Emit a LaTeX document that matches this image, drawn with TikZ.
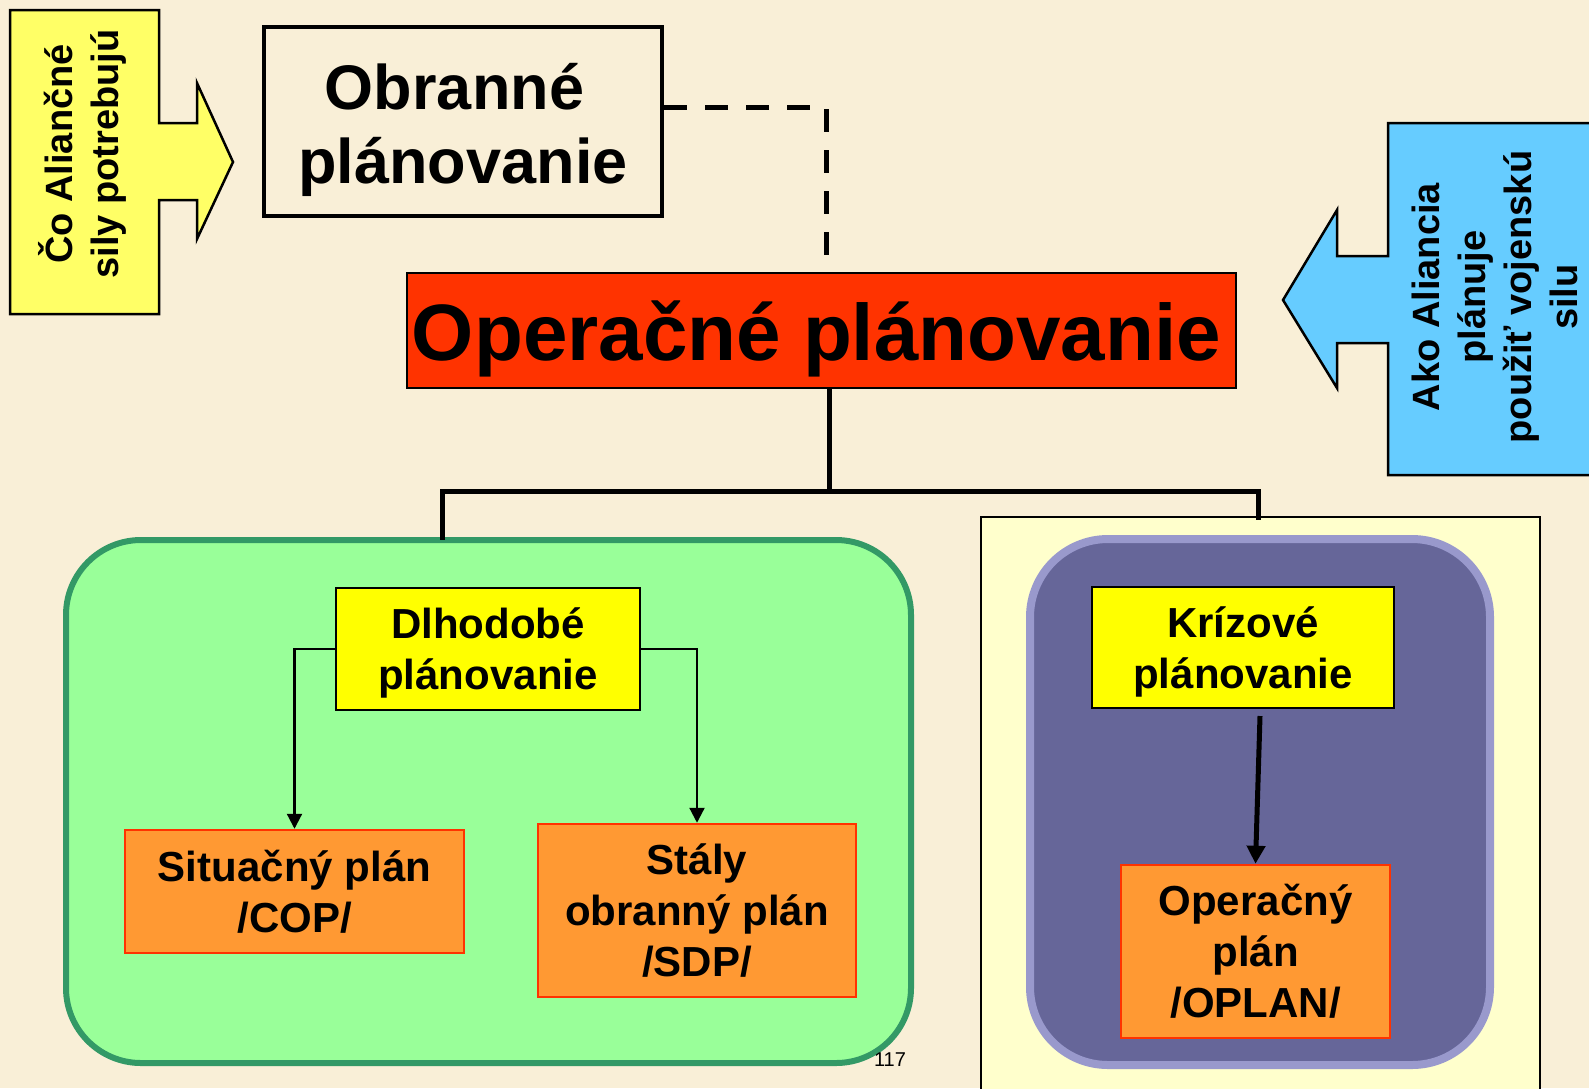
\documentclass[tikz,border=0pt]{standalone}
\usepackage{fontspec}
\setmainfont{Liberation Sans}
\usetikzlibrary{arrows.meta}
\definecolor{paper}{HTML}{F9EFD7}
\definecolor{callyellow}{HTML}{FFFF66}
\definecolor{callblue}{HTML}{66CCFF}
\definecolor{opred}{HTML}{FF3300}
\definecolor{planyellow}{HTML}{FFFF00}
\definecolor{planorange}{HTML}{FF9933}
\definecolor{greenfill}{HTML}{99FF99}
\definecolor{greenedge}{HTML}{339966}
\definecolor{purplefill}{HTML}{666699}
\definecolor{purpleedge}{HTML}{9999CC}
\definecolor{cream}{HTML}{FFFFCC}
\begin{document}
\begin{tikzpicture}[x=1pt,y=-1pt,
  mid/.style={font=\bfseries\fontsize{42}{51}\selectfont},
  stage/.style={draw=black, line width=2.5pt, fill=planyellow, inner sep=0pt},
  plan/.style={mid, draw=opred, line width=2.5pt, fill=planorange, inner sep=0pt, align=center},
  label/.style={inner sep=0pt, align=center},
  callout/.style={draw=black, line width=2.5pt, line join=miter},
  calltext/.style={font=\bfseries\fontsize{38}{46}\selectfont, align=center, rotate=90, inner sep=0pt},
  tree/.style={line width=5pt},
  thinarrow/.style={line width=2.2pt, -{Triangle[width=15pt,length=15pt]}},
  thickarrow/.style={line width=5pt, -{Triangle[width=18pt,length=18pt]}},
  dashline/.style={line width=5pt, dash pattern=on 23pt off 18pt}]

% page and background
\useasboundingbox (0,0) rectangle (1589,1088);
\fill[paper] (0,0) rectangle (1589,1088);

% cream panel behind the crisis planning group
\fill[cream] (981,517) rectangle (1540,1100);
\draw[line width=2pt] (981,1100) -- (981,517) -- (1540,517) -- (1540,1100);

% rounded group frames
\draw[draw=greenedge, fill=greenfill, line width=6pt, rounded corners=75pt]
  (66,540) rectangle (911,1063);
\draw[draw=purpleedge, fill=purplefill, line width=8pt, rounded corners=78pt]
  (1030,539) rectangle (1490,1065);

% left callout arrow
\draw[callout, fill=callyellow]
  (10,10) -- (159,10) -- (159,123) -- (197,123) -- (197,83) -- (233,162)
  -- (197,239) -- (197,200) -- (159,200) -- (159,314) -- (10,314) -- cycle;
\node[calltext] (need) at (82,154) {Čo Aliančné\\sily potrebujú};

% right callout arrow
\draw[callout, fill=callblue]
  (1600,123) -- (1388,123) -- (1388,256) -- (1337,256) -- (1337,210) -- (1283,300)
  -- (1337,388) -- (1337,343) -- (1388,343) -- (1388,475) -- (1600,475);
\node[calltext] (use) at (1495,297) {Ako Aliancia\\plánuje\\použiť vojenskú\\silu};

% top level boxes and their captions
\node[draw=black, line width=4pt, inner sep=0pt, minimum width=398pt, minimum height=189pt]
  (def) at (463,121.5) {};
\node[label, font=\bfseries\fontsize{63}{74}\selectfont] (deftext)
  at ([shift={(0,8)}]def.center) {Obranné\kern17pt\\plánovanie};
\node[draw=black, line width=2pt, fill=opred, inner sep=0pt, minimum width=829pt,
      minimum height=115pt] (op) at (821.5,330.5) {};
\node[label, font=\bfseries\fontsize{80}{96}\selectfont] (optext)
  at ([shift={(-5,8)}]op.center) {Operačné plánovanie};

% second level boxes
\node[stage, minimum width=304pt, minimum height=122pt] (long) at (488,649) {};
\node[label, mid] (longtext) at ([shift={(0,4)}]long.center) {Dlhodobé\\plánovanie};
\node[stage, minimum width=302pt, minimum height=121pt] (crisis) at (1243,647.5) {};
\node[label, mid] (crisistext) at ([shift={(0,4)}]crisis.center) {Krízové\\plánovanie};

% plans
\node[plan, minimum width=339pt, minimum height=123pt] (cop) at (294.5,891.5)
  {Situačný plán\\/COP/};
\node[plan, minimum width=318pt, minimum height=173pt] (sdp) at (697,910.5)
  {Stály\\obranný plán\\/SDP/};
\node[plan, minimum width=269pt, minimum height=173pt] (oplan) at (1255.5,951.5)
  {Operačný\\plán\\/OPLAN/};

% page number
\node[font=\fontsize{20}{24}\selectfont, inner sep=0pt] (pg) at (890,1060) {117};

% dashed link from defence planning
\coordinate (defout) at (def.east |- 0,107);
\coordinate (dashend) at (826,255);
\draw[dashline] (defout) -| (dashend);

% tree below operational planning
\coordinate (optop) at (829,389);
\coordinate (split) at (829,491);
\coordinate (leftdrop) at (442,491);
\coordinate (rightdrop) at (1258,491);
\coordinate (greentop) at (442,537);
\coordinate (creamtop) at (1258,517);
\draw[tree] (optop) -- (split);
\draw[tree, line cap=rect] (greentop) -- (leftdrop) -- (rightdrop) -- (creamtop);

% arrows inside the groups
\draw[thinarrow] (long.west) -| (cop.north);
\draw[thinarrow] (long.east) -| (sdp.north);
\coordinate (crisisout) at (1260,716);
\draw[thickarrow] (crisisout) -- (oplan.north);

\end{tikzpicture}
\end{document}
